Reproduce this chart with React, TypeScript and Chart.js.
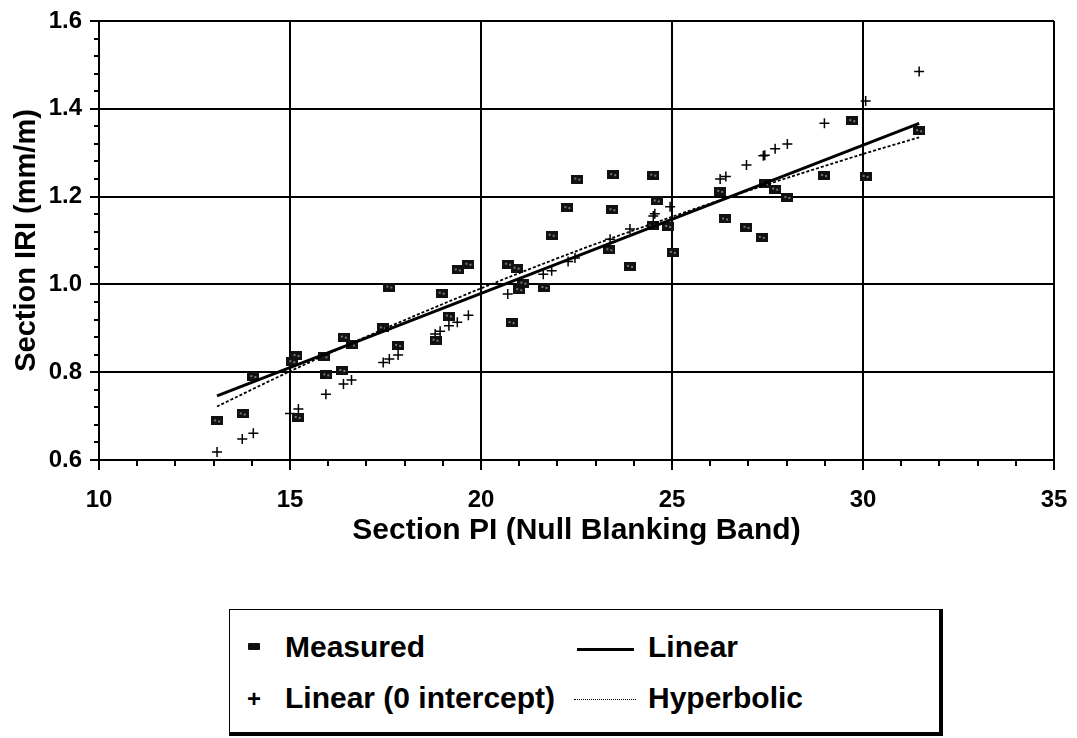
import React, { useEffect, useRef } from 'react';
import { Chart, registerables } from 'chart.js';

Chart.register(...registerables);

// Measured section IRI vs section PI
const measuredX = [13.09, 13.76, 14.04, 15.06, 15.17, 15.2, 15.9, 15.95, 16.37, 16.41, 16.62, 17.43, 17.6, 17.83, 18.81, 18.97, 19.16, 19.39, 19.67, 20.71, 20.8, 20.93, 21.0, 21.11, 21.66, 21.85, 22.26, 22.52, 23.36, 23.44, 23.46, 23.9, 24.49, 24.51, 24.6, 24.9, 25.02, 26.26, 26.39, 26.95, 27.35, 27.43, 27.7, 28.02, 28.98, 29.72, 30.07, 31.47];
const measuredY = [0.689, 0.705, 0.79, 0.824, 0.838, 0.697, 0.835, 0.794, 0.804, 0.88, 0.862, 0.901, 0.994, 0.861, 0.873, 0.98, 0.928, 1.033, 1.046, 1.046, 0.913, 1.037, 0.988, 1.003, 0.993, 1.112, 1.175, 1.24, 1.079, 1.17, 1.25, 1.041, 1.135, 1.249, 1.19, 1.132, 1.073, 1.212, 1.149, 1.13, 1.107, 1.229, 1.217, 1.198, 1.248, 1.373, 1.246, 1.35];

// Linear (0 intercept) predictions
const zeroX = [13.09, 13.75, 14.04, 15.0, 15.22, 15.94, 16.4, 16.61, 17.44, 17.6, 17.83, 18.8, 18.93, 19.16, 19.38, 19.67, 20.7, 20.98, 21.11, 21.63, 21.85, 22.28, 22.46, 23.38, 23.9, 24.51, 24.55, 24.95, 26.26, 26.41, 26.95, 27.39, 27.43, 27.7, 28.02, 28.99, 30.07, 31.47];
const zeroY = [0.618, 0.648, 0.661, 0.706, 0.716, 0.75, 0.773, 0.782, 0.822, 0.83, 0.839, 0.887, 0.893, 0.906, 0.914, 0.93, 0.978, 0.991, 1.0, 1.023, 1.031, 1.052, 1.06, 1.103, 1.126, 1.156, 1.161, 1.177, 1.24, 1.246, 1.272, 1.293, 1.294, 1.309, 1.32, 1.367, 1.418, 1.485];

// Linear fit
const linearX = [13.09, 31.47];
const linearY = [0.746, 1.367];

// Hyperbolic fit
const hyperX = [13.09, 15, 17.5, 20, 22.5, 25, 27.5, 30, 31.47];
const hyperY = [0.722, 0.802, 0.9, 0.991, 1.076, 1.154, 1.228, 1.297, 1.335];

const xTickMajor = [10, 15, 20, 25, 30, 35];
const yTickMajor = ['0.6', '0.8', '1.0', '1.2', '1.4', '1.6'];

const FONT = "'Liberation Sans', Arial, Helvetica, sans-serif";

const zip = (xs: number[], ys: number[]) => xs.map((x, i) => ({ x, y: ys[i] }));

const isMajorX = (v: number) => xTickMajor.includes(Math.round(v * 1000) / 1000);
const isMajorY = (v: number) => Math.abs(v * 5 - Math.round(v * 5)) < 1e-6 && yTickMajor.includes(Number(v).toFixed(1));

function makeSquare(): HTMLCanvasElement {
  const c = document.createElement('canvas');
  c.width = 12;
  c.height = 9;
  const g = c.getContext('2d')!;
  g.fillStyle = '#111';
  g.fillRect(0, 0, 12, 9);
  g.fillStyle = '#777';
  g.fillRect(3, 3, 2, 2);
  g.fillRect(7, 4, 2, 2);
  return c;
}

const tickMarks = {
  id: 'tickMarks',
  afterDraw(chart: any) {
    const ctx = chart.ctx;
    const xs = chart.scales.x;
    const ys = chart.scales.y;
    const a = chart.chartArea;
    ctx.save();
    ctx.strokeStyle = '#000';
    ctx.lineWidth = 2;
    xs.ticks.forEach((t: any) => {
      const px = Math.round(xs.getPixelForValue(t.value));
      const len = isMajorX(t.value) ? 10 : 6;
      ctx.beginPath();
      ctx.moveTo(px, a.bottom);
      ctx.lineTo(px, a.bottom + len);
      ctx.stroke();
    });
    ys.ticks.forEach((t: any) => {
      const py = Math.round(ys.getPixelForValue(t.value));
      const len = isMajorY(t.value) ? 9 : 5;
      ctx.beginPath();
      ctx.moveTo(a.left, py);
      ctx.lineTo(a.left - len, py);
      ctx.stroke();
    });
    ctx.restore();
  },
};

export default function App() {
  const ref = useRef<HTMLCanvasElement | null>(null);

  useEffect(() => {
    if (!ref.current) return;
    const square = makeSquare();
    const chart = new Chart(ref.current, {
      type: 'scatter',
      data: {
        datasets: [
          {
            label: 'Linear',
            data: zip(linearX, linearY),
            showLine: true,
            borderColor: '#000',
            borderWidth: 3,
            pointRadius: 0,
            fill: false,
          },
          {
            label: 'Hyperbolic',
            data: zip(hyperX, hyperY),
            showLine: true,
            borderColor: '#000',
            borderWidth: 1.8,
            borderDash: [3, 2],
            pointRadius: 0,
            tension: 0.3,
            fill: false,
          },
          {
            label: 'Measured',
            data: zip(measuredX, measuredY),
            showLine: false,
            pointStyle: square as any,
            pointRadius: 6,
            backgroundColor: '#111',
            borderColor: '#111',
          },
          {
            label: 'Linear (0 intercept)',
            data: zip(zeroX, zeroY),
            showLine: false,
            pointStyle: 'cross',
            pointRadius: 5,
            borderWidth: 1.5,
            borderColor: '#000',
            backgroundColor: '#000',
          },
        ],
      },
      options: {
        responsive: false,
        animation: false,
        layout: { padding: { left: 0, top: 21, right: 23, bottom: 0 } },
        plugins: {
          legend: { display: false },
          tooltip: { enabled: false },
        },
        scales: {
          x: {
            type: 'linear',
            min: 10,
            max: 35,
            afterFit: (s: any) => {
              s.height = 100;
              s.paddingLeft = 0;
              s.paddingRight = 0;
            },
            ticks: {
              stepSize: 1,
              autoSkip: false,
              maxRotation: 0,
              padding: 16,
              color: '#000',
              font: { family: FONT, size: 24, weight: 'bold' },
              callback: (v: any) => (isMajorX(Number(v)) ? String(v) : ''),
            },
            grid: {
              color: (c: any) => (c.tick && isMajorX(c.tick.value) ? '#000' : 'rgba(0,0,0,0)'),
              lineWidth: 2,
              drawTicks: true,
              tickLength: 10,
              tickColor: 'rgba(0,0,0,0)',
            },
            border: { display: true, color: '#000', width: 2 },
            title: {
              display: true,
              text: 'Section PI (Null Blanking Band)',
              color: '#000',
              font: { family: FONT, size: 30, weight: 'bold' },
              padding: { top: 0, bottom: 11 },
            },
          },
          y: {
            type: 'linear',
            min: 0.6,
            max: 1.6,
            afterFit: (s: any) => {
              s.width = 99;
              s.paddingTop = 0;
              s.paddingBottom = 0;
            },
            ticks: {
              stepSize: 0.04,
              autoSkip: false,
              padding: 7,
              color: '#000',
              font: { family: FONT, size: 24, weight: 'bold' },
              callback: (v: any) => (isMajorY(Number(v)) ? Number(v).toFixed(1) : ''),
            },
            grid: {
              color: (c: any) => (c.tick && isMajorY(c.tick.value) ? '#000' : 'rgba(0,0,0,0)'),
              lineWidth: 2,
              drawTicks: true,
              tickLength: 10,
              tickColor: 'rgba(0,0,0,0)',
            },
            border: { display: true, color: '#000', width: 2 },
            title: {
              display: true,
              text: 'Section IRI (mm/m)',
              color: '#000',
              font: { family: FONT, size: 29, weight: 'bold' },
              padding: { top: 10, bottom: 0 },
            },
          },
        },
      },
      plugins: [tickMarks],
    });
    return () => chart.destroy();
  }, []);

  const txt: React.CSSProperties = {
    position: 'absolute',
    fontFamily: FONT,
    fontWeight: 'bold',
    fontSize: 30,
    lineHeight: '30px',
    color: '#000',
    whiteSpace: 'nowrap',
    transform: 'translateY(-50%)',
  };

  return (
    <div style={{ position: 'absolute', left: 0, top: 0, width: 1077, height: 738, background: '#fff', overflow: 'hidden' }}>
      <canvas ref={ref} width={1077} height={560} style={{ display: 'block' }} />
      <div
        style={{
          position: 'absolute',
          left: 229,
          top: 609,
          width: 709,
          height: 122,
          borderTop: '1.5px solid #000',
          borderLeft: '1.5px solid #000',
          borderRight: '4px solid #000',
          borderBottom: '4px solid #000',
          boxSizing: 'content-box',
        }}
      >
        <div style={{ position: 'absolute', left: 18, top: 33, width: 12, height: 7, background: '#111', borderRadius: 1 }} />
        <div style={{ ...txt, left: 55, top: 37 }}>Measured</div>
        <div style={{ position: 'absolute', left: 347, top: 38, width: 57, height: 3, background: '#000' }} />
        <div style={{ ...txt, left: 418, top: 37 }}>Linear</div>
        <div style={{ ...txt, left: 17, top: 89, fontSize: 24 }}>+</div>
        <div style={{ ...txt, left: 55, top: 88 }}>Linear (0 intercept)</div>
        <div style={{ position: 'absolute', left: 344, top: 89, width: 62, height: 0, borderTop: '1.5px dotted #000' }} />
        <div style={{ ...txt, left: 418, top: 88 }}>Hyperbolic</div>
      </div>
    </div>
  );
}
